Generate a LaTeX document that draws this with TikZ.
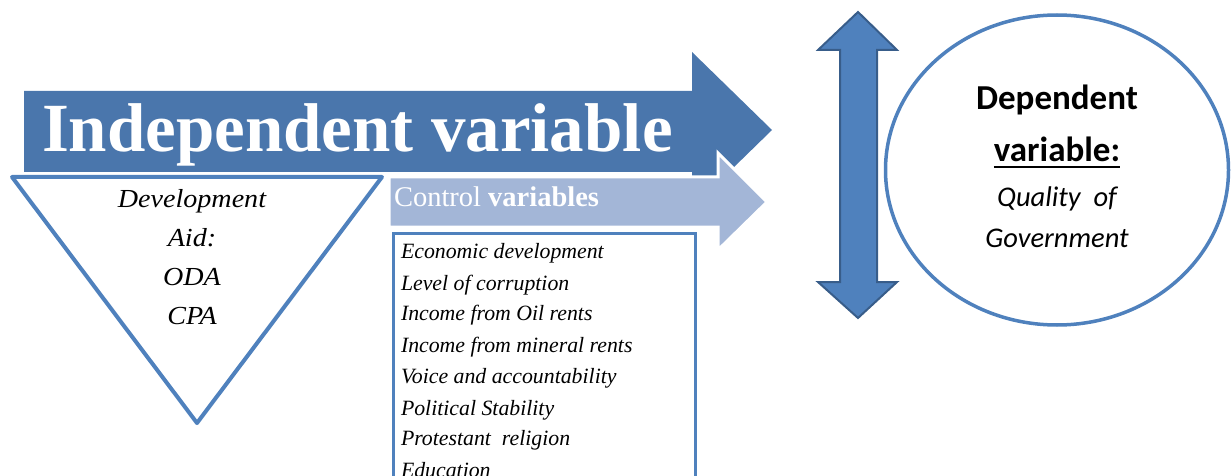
\documentclass[tikz,border=0pt]{standalone}
\usepackage{fontspec}
\setmainfont{Liberation Serif}
\newfontfamily\wideserif[FakeStretch=1.08]{Liberation Serif}
\newfontfamily\calib{Carlito}
\usetikzlibrary{shapes.geometric}
\definecolor{darkblue}{HTML}{4A76AC}
\definecolor{lightblue}{HTML}{A3B6D7}
\definecolor{edgeblue}{HTML}{4F81BD}
\definecolor{deepblue}{HTML}{385D8A}
\tikzset{
  plain/.style={inner sep=0pt, outer sep=0pt},
  listtext/.style={plain, anchor=base west, font=\fontsize{21.8}{21.8}\selectfont\itshape},
  circtext/.style={plain, anchor=base},
}
\begin{document}
\begin{tikzpicture}[x=1pt,y=-1pt]
\clip (0,0) rectangle (1232,476);
% main arrow
\fill[darkblue] (24,91) -- (692,91) -- (692,52) -- (772,130) -- (692,208) -- (692,172) -- (24,172) -- cycle;
\node[plain, anchor=base west, text=white, font=\fontsize{69}{69}\selectfont\bfseries] (indep) at (42,152) {Independent variable};
% control arrow with white rim
\draw[white, line width=3, fill=lightblue, line join=miter] (389,177) -- (718,177) -- (718,153) -- (767,202) -- (718,250) -- (718,227) -- (389,227) -- cycle;
\node[plain, anchor=base west, text=white, font=\fontsize{28.5}{28.5}\selectfont] (ctrl) at (394,207) {Control \textbf{variables}};
% inverted triangle
\draw[edgeblue, line width=4, fill=white, line join=round] (12,177) -- (382,177) -- (197,423) -- cycle;
\node[plain, anchor=north, align=center, font=\wideserif\fontsize{26}{39}\selectfont\itshape] (aid) at (192,189) {Development\\Aid:\\ODA\\CPA};
% list of control variables
\draw[edgeblue, line width=3] (393,233) rectangle (695,500);
\node[listtext] (l1) at (401,258) {Economic development};
\node[listtext] (l2) at (401,290) {Level of corruption};
\node[listtext] (l3) at (401,320) {Income from Oil rents};
\node[listtext] (l4) at (401,352) {Income from mineral rents};
\node[listtext] (l5) at (401,383) {Voice and accountability};
\node[listtext] (l6) at (401,415) {Political Stability};
\node[listtext] (l7) at (401,445) {Protestant\ \ religion};
\node[listtext] (l8) at (401,477) {Education};
% double-headed arrow
\draw[deepblue, line width=2, fill=edgeblue, line join=miter] (858,12) -- (897,50) -- (877,50) -- (877,282) -- (897,282) -- (858,318) -- (818,282) -- (840,282) -- (840,50) -- (818,50) -- cycle;
% dependent variable ellipse
\node[ellipse, draw=edgeblue, line width=3.5, minimum width=343, minimum height=310, inner sep=0] (dep) at (1057,170) {};
\node[circtext, font=\calib\fontsize{35}{35}\selectfont\bfseries] (d1) at (1057,110) {Dependent};
\node[circtext, font=\calib\fontsize{35}{35}\selectfont\bfseries] (d2) at (1057,162) {variable:};
\draw[line width=2.5] ([yshift=-5pt]d2.base west) -- ([yshift=-5pt]d2.base east);
\node[circtext, font=\calib\fontsize{28.5}{28.5}\selectfont\itshape] (d3) at (1057,207) {Quality\ \ of};
\node[circtext, font=\calib\fontsize{28.5}{28.5}\selectfont\itshape] (d4) at (1057,247) {Government};
\end{tikzpicture}
\end{document}
